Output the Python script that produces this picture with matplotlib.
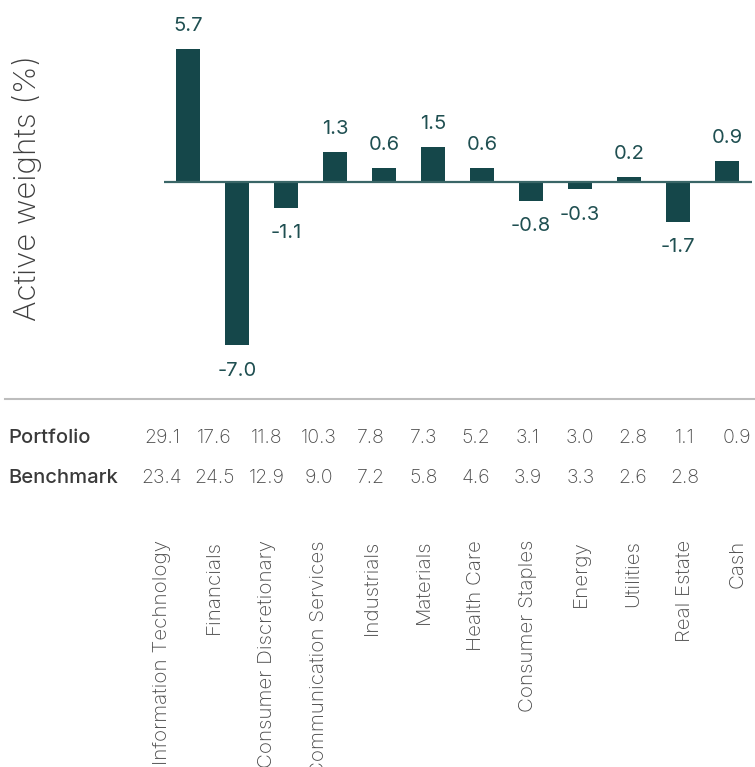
import matplotlib
matplotlib.use("Agg")
import matplotlib.pyplot as plt
import numpy as np

categories = ["Information Technology", "Financials", "Consumer Discretionary",
              "Communication Services", "Industrials", "Materials", "Health Care",
              "Consumer Staples", "Energy", "Utilities", "Real Estate", "Cash"]
active = [5.7, -7.0, -1.1, 1.3, 0.6, 1.5, 0.6, -0.8, -0.3, 0.2, -1.7, 0.9]
portfolio = ["29.1", "17.6", "11.8", "10.3", "7.8", "7.3", "5.2", "3.1", "3.0", "2.8", "1.1", "0.9"]
benchmark = ["23.4", "24.5", "12.9", "9.0", "7.2", "5.8", "4.6", "3.9", "3.3", "2.6", "2.8", ""]

plt.rcParams['font.family'] = ['Inter', 'DejaVu Sans']

BAR = "#15474A"
LBL = "#1F4F51"
W, H = 755, 767
fig = plt.figure(figsize=(W / 100, H / 100), dpi=100)

# main bar axes
ax_top, ax_bot = 0, 390
ax = fig.add_axes([163.5 / W, 1 - ax_bot / H, 588 / W, (ax_bot - ax_top) / H])
x = np.arange(len(categories))
ax.bar(x, active, width=0.49, color=BAR, zorder=2)
ax.axhline(0, color="#3A6667", lw=1.6, zorder=3)
ax.set_xlim(-0.5, len(categories) - 0.5)
ppu = 23.3
ax.set_ylim(-(ax_bot - 182) / ppu, 182 / ppu)
for xi, v in zip(x, active):
    if v >= 0:
        ax.annotate(f"{v:.1f}", (xi, v), xytext=(0, 13), textcoords="offset points",
                    ha="center", va="baseline", fontsize=14.5, color=LBL)
    else:
        ax.annotate(f"{v:.1f}", (xi, v), xytext=(0, -12), textcoords="offset points",
                    ha="center", va="top", fontsize=14.5, color=LBL)
ax.axis("off")

fig.text(27 / W, 1 - 188 / H, "Active weights (%)", rotation=90, ha="center", va="center",
         fontsize=22.5, color="#3F3F3F", fontweight="light")

# table / labels axes (pixel coordinates vertically, column units horizontally)
tx = fig.add_axes([0, 0, 1, 1])
col0, colw = 162, 52.3
tx.set_xlim(-col0 / colw, (W - col0) / colw)
tx.set_ylim(H, 0)
tx.axis("off")
tx.plot([-col0 / colw + 5 / colw, (W - col0) / colw], [399, 399], color="#BDBDBD", lw=1.5)
xl = -col0 / colw + 8 / colw
tx.text(xl, 438, "Portfolio", ha="left", va="center", fontsize=14.5, color="#3A3A3A", fontweight="medium")
tx.text(xl, 478, "Benchmark", ha="left", va="center", fontsize=14.5, color="#3A3A3A", fontweight="medium")
for i, (p, b) in enumerate(zip(portfolio, benchmark)):
    tx.text(i, 438, p, ha="center", va="center", fontsize=14, color="#4A4A4A", fontweight="light")
    tx.text(i, 478, b, ha="center", va="center", fontsize=14, color="#4A4A4A", fontweight="light")
for i, c in enumerate(categories):
    tx.text(i, 540, c, rotation=90, ha="center", va="top", fontsize=14.8, color="#4A4A4A",
            fontweight="light")

fig.savefig("out.png", dpi=100)
